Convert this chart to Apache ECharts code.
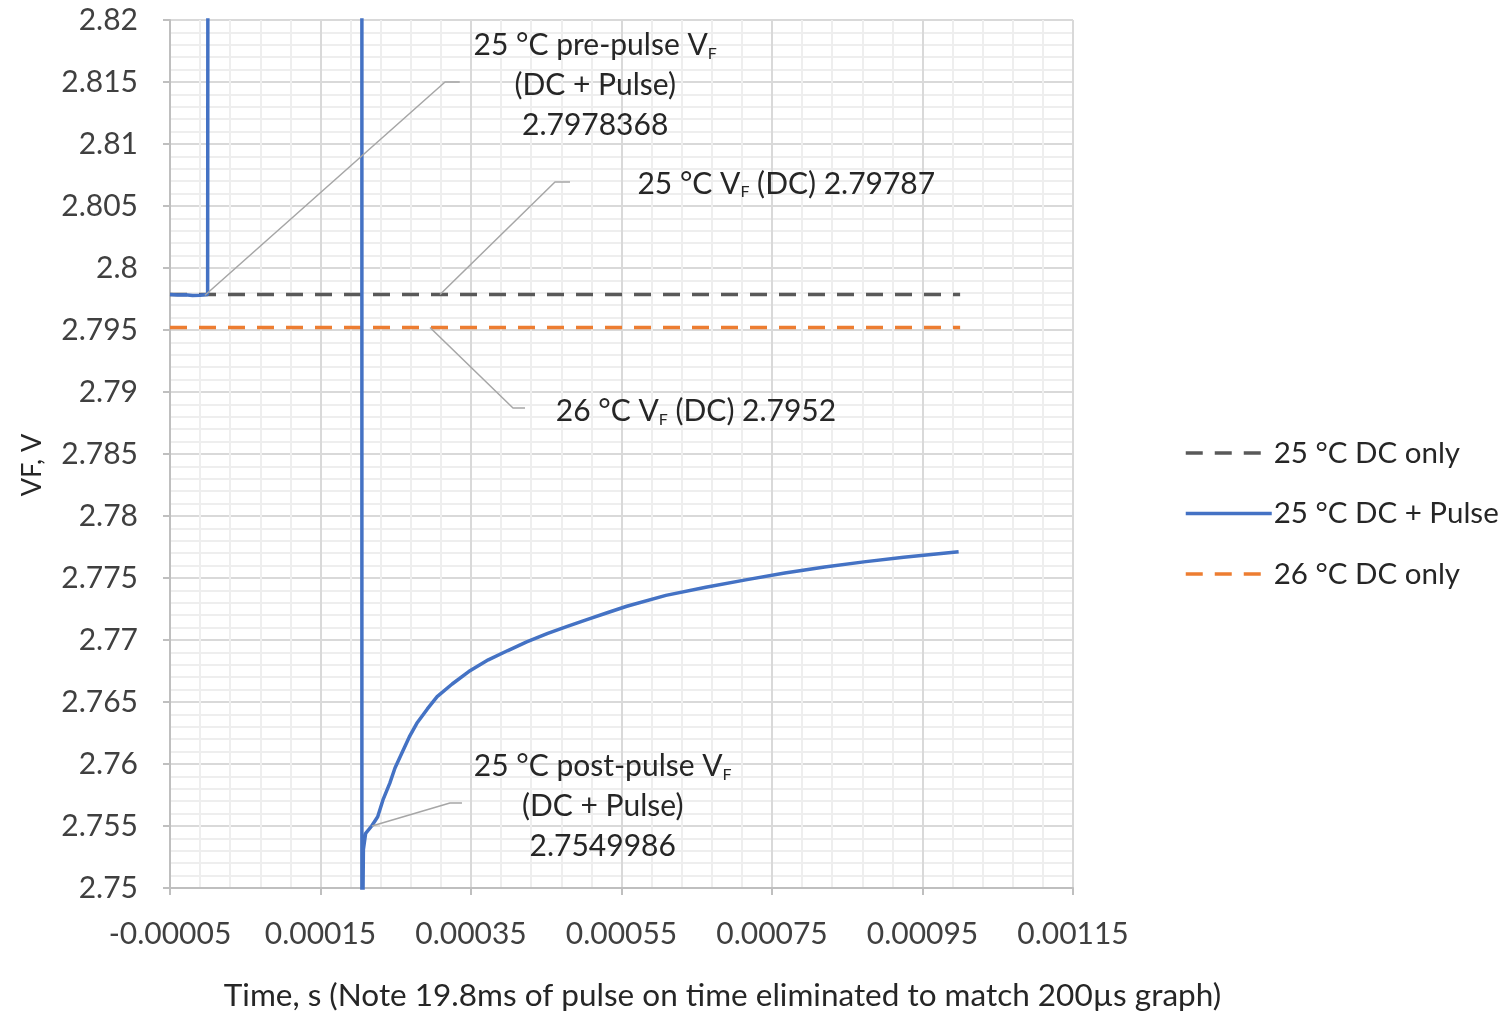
<!DOCTYPE html>
<html>
<head>
<meta charset="utf-8">
<script src="https://cdn.jsdelivr.net/npm/echarts@6/dist/echarts.min.js"></script>
<style>html,body{margin:0;padding:0;background:#fff}#c{width:1504px;height:1013px}</style>
</head>
<body>
<div id="c"></div>
<script>
// ---- data ----
const seriesNames = ['25 °C DC only', '25 °C DC + Pulse', '26 °C DC only'];
const dc25Time = [-0.00005, 0.001];
const dc25VF = [2.79787, 2.79787];
const dc26Time = [-0.00005, 0.001];
const dc26VF = [2.7952, 2.7952];
const pulseTime = [-0.00005, -0.00004, -0.00003, -0.00002, -0.00001, -0.000004, 0.000000, 0.000002,
  0.000205, 0.000205, 0.000207, 0.000210, 0.000218, 0.000226, 0.000233, 0.000242, 0.000249, 0.000258,
  0.000268, 0.000278, 0.000292, 0.000305, 0.000325, 0.000347, 0.000373, 0.000399, 0.000424, 0.000452,
  0.000478, 0.000504, 0.000531, 0.000557, 0.000609, 0.000662, 0.000715, 0.000767, 0.000820,
  0.000872, 0.000925, 0.000998];
const pulseVF = [2.79786, 2.79782, 2.79784, 2.79778, 2.79781, 2.79784, 2.79786, 2.95,
  2.95, 2.74, 2.7531, 2.75441, 2.75500, 2.75575, 2.75710, 2.75844, 2.75968, 2.76086,
  2.76218, 2.76328, 2.76444, 2.76543, 2.76645, 2.76745, 2.76840, 2.76915, 2.76985, 2.77054,
  2.7711, 2.77165, 2.7722, 2.77272, 2.7736, 2.77425, 2.77485, 2.7754, 2.77588,
  2.7763, 2.77668, 2.77712];
const xTickLabels = ['-0.00005', '0.00015', '0.00035', '0.00055', '0.00075', '0.00095', '0.00115'];
const yTickLabels = ['2.75', '2.755', '2.76', '2.765', '2.77', '2.775', '2.78', '2.785', '2.79', '2.795', '2.8', '2.805', '2.81', '2.815', '2.82'];

// ---- annotations (callouts) ----
const annotations = [
  { pts: [[-0.0000035, 2.7978], [0.0003155, 2.815], [0.000335, 2.815]], at: [0.000515, 2.8147],
    text: '{t|25 °C pre-pulse V}{s|F}\n{t|(DC + Pulse)}\n{t|2.7978368}' },
  { pts: [[0.0003088, 2.79787], [0.0004616, 2.80694], [0.0004816, 2.80694]], at: [0.000769, 2.80676],
    text: '{t|25 °C V}{s|F}{t| (DC) 2.79787}' },
  { pts: [[0.0002955, 2.7952], [0.0004058, 2.78871], [0.0004218, 2.78871]], at: [0.000649, 2.78843],
    text: '{t|26 °C V}{s|F}{t| (DC) 2.7952}' },
  { pts: [[0.0002184, 2.755], [0.000322, 2.75685], [0.000338, 2.75685]], at: [0.000525, 2.75658],
    text: '{t|25 °C post-pulse V}{s|F}\n{t|(DC + Pulse)}\n{t|2.7549986}' }
];

const FONT = 'Lato';
const TXT = '#262626';
const chart = echarts.init(document.getElementById('c'), null, { renderer: 'canvas' });

const rich = {
  t: { fontFamily: FONT, fontSize: 30, color: TXT, lineHeight: 40 },
  s: { fontFamily: FONT, fontSize: 16, color: TXT, padding: [16, 0, 0, 0] }
};

const leaderSeries = annotations.map((a, i) => ({
  type: 'line', name: 'ann' + i, data: a.pts, symbol: 'none', silent: true, clip: false, z: 5,
  lineStyle: { color: '#a6a6a6', width: 1.5 },
  markPoint: {
    silent: true, symbol: 'rect', symbolSize: 1, itemStyle: { color: 'rgba(0,0,0,0)' },
    label: { show: true, position: 'inside', align: 'center', verticalAlign: 'middle', formatter: a.text, rich: rich },
    data: [{ coord: a.at, value: 0 }]
  }
}));

const zip = (xs, ys) => xs.map((x, i) => [x, ys[i]]);

chart.setOption({
  animation: false,
  backgroundColor: '#ffffff',
  grid: { left: 170, right: 431, top: 20, bottom: 125, containLabel: false, outerBoundsMode: 'none' },
  legend: {
    data: seriesNames, orient: 'vertical', left: 1179, top: 433,
    itemWidth: 86, itemHeight: 26, itemGap: 30.5,
    itemStyle: { opacity: 0 },
    lineStyle: { width: 3.5 },
    textStyle: { fontFamily: FONT, fontSize: 29.5, color: TXT, padding: [0, 0, 0, -3] }
  },
  xAxis: {
    type: 'value', min: -0.00005, max: 0.00115, interval: 0.0002,
    name: 'Time, s (Note 19.8ms of pulse on time eliminated to match 200µs graph)',
    nameLocation: 'middle', nameGap: 92,
    nameTextStyle: { fontFamily: FONT, fontSize: 31.5, color: TXT, padding: [0, 0, 0, 202] },
    axisLine: { show: true, onZero: false, lineStyle: { color: '#bfbfbf', width: 2 } },
    axisTick: { show: true, inside: false, length: 7, lineStyle: { color: '#bfbfbf', width: 2 } },
    axisLabel: { fontFamily: FONT, fontSize: 30, color: '#404040', margin: 31,
      formatter: v => { const i = Math.round((v + 0.00005) / 0.0002); return xTickLabels[i] !== undefined ? xTickLabels[i] : v.toFixed(5); } },
    splitLine: { show: true, lineStyle: { color: '#d9d9d9', width: 2 } },
    minorTick: { show: false, splitNumber: 5 },
    minorSplitLine: { show: true, lineStyle: { color: '#eeeeee', width: 2 } }
  },
  yAxis: {
    type: 'value', min: 2.75, max: 2.82, interval: 0.005,
    name: 'VF, V', nameLocation: 'middle', nameGap: 124, nameRotate: 90,
    nameTextStyle: { fontFamily: FONT, fontSize: 27, color: TXT, padding: [0, 22, 0, 0] },
    axisLine: { show: true, onZero: false, lineStyle: { color: '#bfbfbf', width: 2 } },
    axisTick: { show: true, inside: false, length: 7, lineStyle: { color: '#bfbfbf', width: 2 } },
    axisLabel: { fontFamily: FONT, fontSize: 30, color: '#404040', margin: 32,
      formatter: v => { const i = Math.round((v - 2.75) / 0.005); return yTickLabels[i] !== undefined ? yTickLabels[i] : String(v); } },
    splitLine: { show: true, lineStyle: { color: '#d9d9d9', width: 2 } },
    minorTick: { show: false, splitNumber: 5 },
    minorSplitLine: { show: true, lineStyle: { color: '#eeeeee', width: 2 } }
  },
  series: [
    { type: 'line', name: seriesNames[0], data: zip(dc25Time, dc25VF), symbol: 'none', z: 3,
      lineStyle: { color: '#595959', width: 3.5, type: [17, 12] }, itemStyle: { color: '#595959' } },
    { type: 'line', name: seriesNames[1], data: zip(pulseTime, pulseVF), symbol: 'none', smooth: false, z: 4, clip: true,
      lineStyle: { color: '#4472C4', width: 3.5 }, itemStyle: { color: '#4472C4' } },
    { type: 'line', name: seriesNames[2], data: zip(dc26Time, dc26VF), symbol: 'none', z: 3,
      lineStyle: { color: '#ED7D31', width: 3.5, type: [17, 12] }, itemStyle: { color: '#ED7D31' } },
    ...leaderSeries
  ]
});
</script>
</body>
</html>
